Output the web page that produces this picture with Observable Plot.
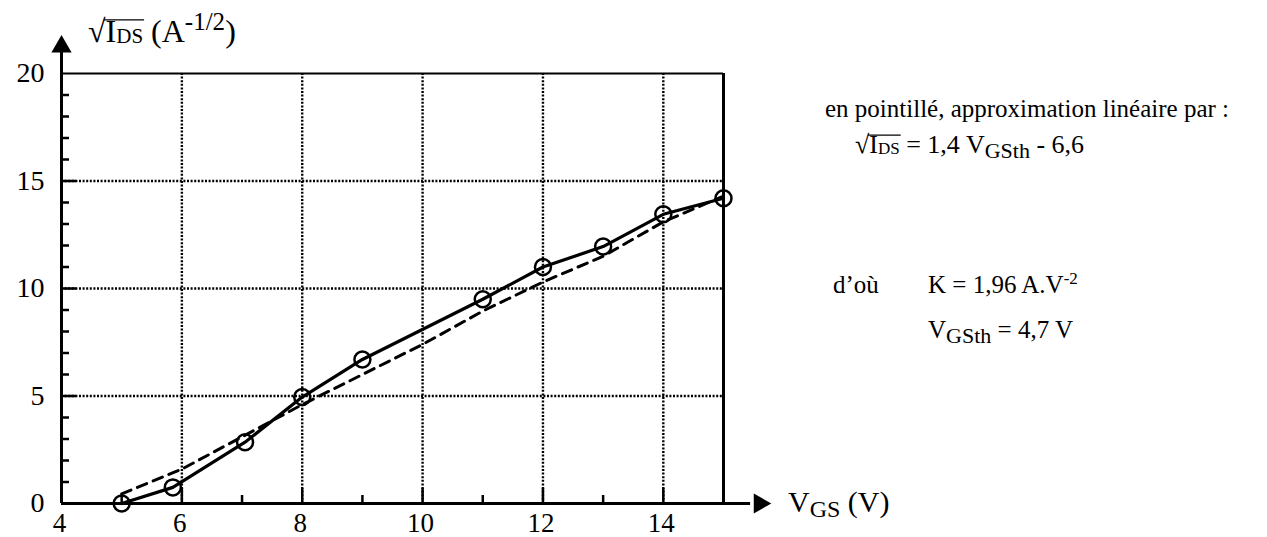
<!DOCTYPE html>
<html><head><meta charset="utf-8">
<script src="https://cdn.jsdelivr.net/npm/d3@7"></script>
<script src="https://cdn.jsdelivr.net/npm/@observablehq/plot@0.6"></script>
<style>body{margin:0;background:#fff;}</style>
</head><body><div id="chart"></div>
<script>
// measured points (circles, solid line)
const vgs = [5.0, 5.85, 7.05, 8.0, 9.0, 11.0, 12.0, 13.0, 14.0, 15.0];
const sqrtIds = [0, 0.75, 2.85, 4.95, 6.7, 9.5, 11.0, 11.95, 13.45, 14.2];
// dashed linear approximation
const fitVgs = [5, 6, 7, 8, 9, 10, 11, 12, 13, 14, 15];
const fitSqrtIds = [0.45, 1.6, 3.1, 4.6, 6.0, 7.4, 8.95, 10.3, 11.5, 13.1, 14.3];
// axes
const xTicks = [4, 6, 8, 10, 12, 14];
const xMinor = [5, 7, 9, 11, 13];
const xMajorInner = [6, 8, 10, 12, 14];
const yTicks = [0, 5, 10, 15, 20];
const yMinor = [1,2,3,4,6,7,8,9,11,12,13,14,16,17,18,19];
const yMajorInner = [5, 10, 15];
const xDomain = [4, 15];
const yDomain = [0, 20];
const xAxisEnd = 15.45;
const yAxisEnd = 21.1;
const xArrowAt = 15.6;
const yArrowAt = 21.25;

const W = 1267, H = 537;
const mL = 61, mR = 544, mT = 73, mB = 34;
const frameW = W - mL - mR, frameH = H - mT - mB;
const FONT = "'Liberation Serif', 'Times New Roman', serif";

const meas = vgs.map((v, i) => ({x: v, y: sqrtIds[i]}));
const fit = fitVgs.map((v, i) => ({x: v, y: fitSqrtIds[i]}));

const plot = Plot.plot({
  width: W, height: H,
  marginLeft: mL, marginRight: mR, marginTop: mT, marginBottom: mB,
  style: {fontFamily: FONT, fontSize: "28px", background: "white", color: "black"},
  x: {domain: xDomain},
  y: {domain: yDomain},
  marks: [
    // grid
    Plot.ruleX(xMajorInner, {x: d => d, stroke: "black", strokeWidth: 2.4, strokeDasharray: "2,1.6"}),
    Plot.ruleY(yMajorInner, {y: d => d, stroke: "black", strokeWidth: 2.4, strokeDasharray: "2,1.6"}),
    // inner ticks
    Plot.tickY(yMinor, {y: d => d, insetRight: frameW - 8, stroke: "black", strokeWidth: 2.5}),
    Plot.tickY(yMajorInner, {y: d => d, insetRight: frameW - 15, stroke: "black", strokeWidth: 2.5}),
    Plot.tickX(xMinor, {x: d => d, insetTop: frameH - 8, stroke: "black", strokeWidth: 2.5}),
    Plot.tickX(xMajorInner, {x: d => d, insetTop: frameH - 15, stroke: "black", strokeWidth: 2.5}),
    // frame top/right
    Plot.ruleY([yDomain[1]], {y: d => d, stroke: "black", strokeWidth: 2}),
    Plot.ruleX([xDomain[1]], {x: d => d, y1: yDomain[0], y2: yDomain[1], stroke: "black", strokeWidth: 3}),
    // axes lines
    Plot.ruleX([xDomain[0]], {x: d => d, y1: yDomain[0], y2: yAxisEnd, stroke: "black", strokeWidth: 3}),
    Plot.ruleY([yDomain[0]], {y: d => d, x1: xDomain[0], x2: xAxisEnd, stroke: "black", strokeWidth: 3}),
    // arrow heads
    Plot.dot([0], {x: () => xDomain[0], y: () => yArrowAt, symbol: "triangle", r: 7.5, fill: "black", stroke: "none"}),
    Plot.dot([0], {x: () => xArrowAt, y: () => yDomain[0], symbol: "triangle", r: 7.5, rotate: 90, fill: "black", stroke: "none"}),
    // tick labels
    Plot.axisX({ticks: xTicks, tickSize: 0, tickPadding: 9, fontSize: 27, label: null, tickFormat: d => d, dx: -2}),
    Plot.axisY({ticks: yTicks, tickSize: 0, tickPadding: 17, fontSize: 28, label: null, tickFormat: d => d}),
    // data
    Plot.line(fit, {x: "x", y: "y", stroke: "black", strokeWidth: 3, strokeDasharray: "10,7"}),
    Plot.line(meas, {x: "x", y: "y", stroke: "black", strokeWidth: 3.2}),
    Plot.dot(meas, {x: "x", y: "y", r: 8, stroke: "black", strokeWidth: 2.5, fill: "none"})
  ]
});
document.getElementById("chart").appendChild(plot);

const svg = d3.select(plot);
function rich(x, y, parts, size) {
  const t = svg.append("text").attr("x", x).attr("y", y)
    .attr("font-family", FONT).attr("font-size", size).attr("fill", "black")
    .attr("text-anchor", "start")
    .style("white-space", "pre");
  let shift = 0, idx = 0;
  const spans = [];
  for (const p of parts) {
    const s = p.shift || 0;
    const ts = t.append("tspan").text(p.t).attr("dy", s - shift);
    shift = s;
    if (p.size) ts.attr("font-size", p.size);
    spans.push({start: idx, end: idx + p.t.length, over: p.over});
    idx += p.t.length;
  }
  // radical overline across flagged spans
  const flagged = spans.filter(s => s.over);
  if (flagged.length) {
    const node = t.node();
    const a = node.getExtentOfChar(flagged[0].start - 1); // radical sign
    const b = node.getExtentOfChar(flagged[flagged.length - 1].end - 1);
    const yTop = y - 0.69 * size;
    svg.append("line")
      .attr("x1", a.x + a.width - 1.5).attr("x2", b.x + b.width + 1)
      .attr("y1", yTop).attr("y2", yTop)
      .attr("stroke", "black").attr("stroke-width", 1.3);
  }
  return t;
}
// y axis title
rich(88, 42, [
  {t: "√"}, {t: "I", over: true}, {t: "DS", size: 21, shift: 1, over: true},
  {t: " (A"}, {t: "-1/2", size: 25, shift: -12}, {t: ")"}
], 32);
// x axis title
rich(788, 512, [{t: "V"}, {t: "GS", size: 24, shift: 5}, {t: " (V)"}], 30);
// annotation
rich(825, 117, [{t: "en pointillé, approximation linéaire par :"}], 25);
rich(855, 153, [
  {t: "√"}, {t: "I", over: true}, {t: "DS", size: 17, shift: 1, over: true},
  {t: " = 1,4 V"}, {t: "GSth", size: 22, shift: 5}, {t: " - 6,6"}
], 26);
rich(833, 293, [{t: "d’où"}], 25);
rich(928, 293, [{t: "K = 1,96 A.V"}, {t: "-2", size: 17, shift: -9}], 25);
rich(928, 338, [{t: "V"}, {t: "GSth", size: 22, shift: 5}, {t: " = 4,7 V"}], 25);
</script></body></html>
